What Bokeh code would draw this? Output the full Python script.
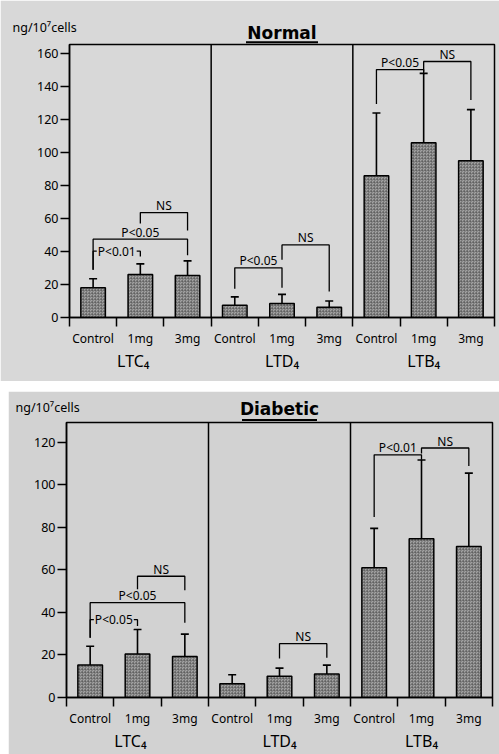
from bokeh.plotting import figure
from bokeh.models import (Range1d, FixedTicker, LinearAxis, Whisker, ColumnDataSource,
                          Span, TeeHead, Spacer)
from bokeh.layouts import column, row
from bokeh.embed import file_html
from bokeh.resources import INLINE
from bokeh.core.properties import value

FONT = "Noto Sans"
TITLE_FONT = "DejaVu Sans"

# ---------------- data ----------------
doses = ["Control", "1mg", "3mg"]
groups = ["LTC₄", "LTD₄", "LTB₄"]
group_label_pos = [1.35, 4.5, 7.5]
ylabel_text = "ng/10⁷cells"

normal_mean = [18.0, 26.0, 25.5, 7.5, 8.5, 6.2, 86.0, 106.0, 95.0]
normal_err = [5.5, 6.5, 8.8, 5.0, 5.5, 3.8, 38.0, 42.0, 31.0]
diabetic_mean = [15.3, 20.5, 19.3, 6.5, 10.0, 11.0, 61.0, 74.7, 71.0]
diabetic_err = [8.8, 11.5, 10.5, 4.2, 3.8, 4.2, 18.5, 37.0, 34.5]

normal_ticks = [0, 20, 40, 60, 80, 100, 120, 140, 160]
diabetic_ticks = [0, 20, 40, 60, 80, 100, 120]
normal_ymax = 165.5
diabetic_ymax = 129.3

# significance brackets: bar index from/to, bracket level, left/right foot, label, inline label
normal_br_from = [0, 0, 1, 3, 4, 6, 7]
normal_br_to = [1, 2, 2, 4, 5, 7, 8]
normal_br_level = [40.2, 47.5, 63.6, 30.1, 44.0, 150.3, 155.2]
normal_br_left = [29.0, 29.0, 57.0, 17.4, 35.0, 129.5, 149.0]
normal_br_right = [37.0, 37.8, 52.7, 18.0, 15.8, 147.3, 131.9]
normal_br_text = ["P<0.01", "P<0.05", "NS", "P<0.05", "NS", "P<0.05", "NS"]
normal_br_inline = [True, False, False, False, False, False, False]

diabetic_br_from = [0, 0, 1, 4, 6, 7]
diabetic_br_to = [1, 2, 2, 5, 7, 8]
diabetic_br_level = [36.6, 44.6, 57.0, 25.3, 114.1, 117.3]
diabetic_br_left = [28.1, 28.1, 50.9, 18.3, 84.9, 114.7]
diabetic_br_right = [33.6, 35.2, 50.4, 18.7, 111.8, 108.9]
diabetic_br_text = ["P<0.05", "P<0.05", "NS", "NS", "P<0.01", "NS"]
diabetic_br_inline = [True, False, False, False, False, False]


def make_panel(title, means, errs, ticks, ymax, br_from, br_to, br_level, br_left,
               br_right, br_text, br_inline, width, height, bl, br, bt, bb, bg,
               title_px, underline_px, underline_w, ylabel_px, ylabel_left_px):
    frame_w = width - bl - br
    frame_h = height - bt - bb
    sy = frame_h / ymax          # px per data unit (y)
    sx = frame_w / 9.0           # px per category

    p = figure(width=width, height=height, output_backend="svg", toolbar_location=None,
               x_range=Range1d(0, 9), y_range=Range1d(0, ymax),
               min_border_left=bl, min_border_right=br, min_border_top=bt,
               min_border_bottom=bb)
    p.background_fill_color = bg
    p.border_fill_color = bg
    p.outline_line_color = "black"
    p.outline_line_width = 1.5
    p.grid.visible = False

    centers = [i + 0.5 for i in range(9)]
    src = ColumnDataSource(dict(x=centers, top=means,
                                upper=[m + e for m, e in zip(means, errs)],
                                lower=[m - e for m, e in zip(means, errs)]))

    p.vbar(x="x", top="top", bottom=0, width=0.52, source=src,
           fill_color="#a3a3a3", line_color="black", line_width=1.5,
           hatch_pattern="criss_cross", hatch_scale=3, hatch_color="#4a4a4a",
           hatch_weight=0.6, hatch_alpha=0.6)
    p.add_layout(Whisker(source=src, base="x", upper="upper", lower="lower",
                         line_color="black", line_width=1.6,
                         upper_head=TeeHead(size=8, line_width=1.6, line_color="black"),
                         lower_head=TeeHead(size=8, line_width=1.6, line_color="black")))

    for loc in (3, 6):
        p.add_layout(Span(location=loc, dimension="height", line_color="black", line_width=1.5))

    # brackets
    xs, ys = [], []
    for f, t, lv, l, r in zip(br_from, br_to, br_level, br_left, br_right):
        xs.append([f + 0.5, f + 0.5, t + 0.5, t + 0.5])
        ys.append([l, lv, lv, r])
    p.multi_line(xs=xs, ys=ys, line_color="black", line_width=1.3)

    ab = [i for i, inl in enumerate(br_inline) if not inl]
    inl = [i for i, v in enumerate(br_inline) if v]
    p.text(x=[(br_from[i] + br_to[i]) / 2 + 0.5 for i in ab],
           y=[br_level[i] + 7.0 / sy for i in ab],
           text=[br_text[i] for i in ab], text_align="center", text_baseline="middle",
           text_font=value(FONT), text_font_size="12px", text_color="black")
    p.text(x=[(br_from[i] + br_to[i]) / 2 + 0.5 for i in inl],
           y=[br_level[i] for i in inl],
           text=[br_text[i] for i in inl], text_align="center", text_baseline="middle",
           text_font=value(FONT), text_font_size="12px", text_color="black",
           background_fill_color=bg, padding=1)

    # y axis
    ya = p.yaxis[0]
    ya.ticker = FixedTicker(ticks=ticks)
    ya.major_tick_out = 9
    ya.major_tick_in = 0
    ya.minor_tick_out = 0
    ya.minor_tick_in = 0
    ya.axis_line_width = 1.5
    ya.major_tick_line_width = 1.5
    ya.major_label_text_font = FONT
    ya.major_label_text_font_size = "12.5px"
    ya.major_label_text_color = "black"
    ya.major_label_standoff = 2

    # x axis: labels at bar centres, tick marks at category boundaries
    xa = p.xaxis[0]
    xa.ticker = FixedTicker(ticks=centers, minor_ticks=list(range(10)))
    xa.major_label_overrides = {c: doses[i % 3] for i, c in enumerate(centers)}
    xa.major_tick_line_color = None
    xa.major_tick_out = 9
    xa.major_tick_in = 0
    xa.minor_tick_out = 9
    xa.minor_tick_in = 0
    xa.minor_tick_line_width = 1.5
    xa.axis_line_width = 1.5
    xa.major_label_text_font = FONT
    xa.major_label_text_font_size = "12px"
    xa.major_label_text_color = "black"
    xa.major_label_standoff = 3

    ga = LinearAxis(ticker=FixedTicker(ticks=group_label_pos),
                    major_label_overrides={pos: g for pos, g in zip(group_label_pos, groups)},
                    axis_line_color=None, major_tick_line_color=None,
                    minor_tick_line_color=None, major_tick_out=0, major_tick_in=0,
                    minor_tick_out=0, minor_tick_in=0,
                    major_label_text_font=FONT, major_label_text_font_size="16px",
                    major_label_text_color="black", major_label_standoff=0)
    p.add_layout(ga, "below")

    # title, underline, unit label (outside the frame, drawn on the overlay level)
    p.text(x=[4.5], y=[ymax + title_px / sy], text=[title], text_align="center",
           text_baseline="middle", text_font=value(TITLE_FONT), text_font_style="bold",
           text_font_size="17px", text_color="black", level="overlay")
    p.text(x=[ylabel_left_px / sx], y=[ymax + ylabel_px / sy], text=[ylabel_text],
           text_align="left", text_baseline="middle", text_font=value(FONT),
           text_font_size="12.5px", text_color="black", level="overlay")
    uy = ymax + underline_px / sy
    ux0, ux1 = 4.5 - underline_w / 2 / sx, 4.5 + underline_w / 2 / sx
    p.segment(x0=[ux0], y0=[uy], x1=[ux1], y1=[uy], line_color="black", line_width=2,
              level="overlay")
    return p


top = make_panel("Normal", normal_mean, normal_err, normal_ticks, normal_ymax,
                 normal_br_from, normal_br_to, normal_br_level, normal_br_left,
                 normal_br_right, normal_br_text, normal_br_inline,
                 width=499, height=381, bl=69, br=5, bt=44, bb=64, bg="#d8d8d8",
                 title_px=12, underline_px=2.3, underline_w=72, ylabel_px=17,
                 ylabel_left_px=-57)
bottom = make_panel("Diabetic", diabetic_mean, diabetic_err, diabetic_ticks, diabetic_ymax,
                    diabetic_br_from, diabetic_br_to, diabetic_br_level, diabetic_br_left,
                    diabetic_br_right, diabetic_br_text, diabetic_br_inline,
                    width=491, height=363, bl=58, br=7, bt=31, bb=57, bg="#d2d2d2",
                    title_px=13.7, underline_px=2.4, underline_w=75, ylabel_px=15,
                    ylabel_left_px=-51)

layout = column(top, Spacer(height=10), row(Spacer(width=8), bottom))
open("out.html", "w").write(file_html(layout, INLINE))
